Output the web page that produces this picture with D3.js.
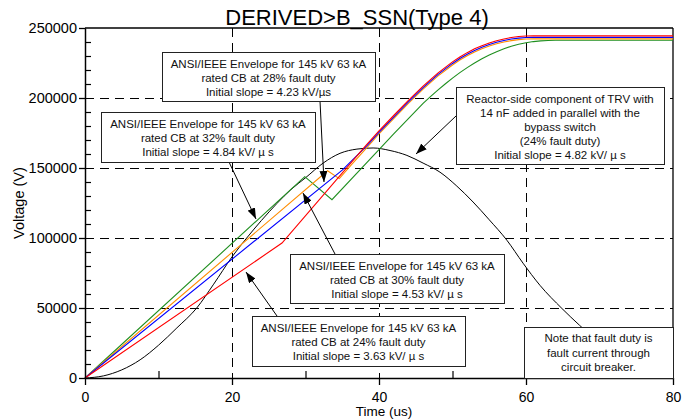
<!DOCTYPE html>
<html>
<head>
<meta charset="utf-8">
<script src="https://cdn.jsdelivr.net/npm/d3@7"></script>
<style>
  body { margin: 0; background: #fff; }
  svg { display: block; font-family: "Liberation Sans", Arial, sans-serif; }
</style>
</head>
<body>
<div id="chart"></div>
<script>
// tick values
var xTicks = [0, 20, 40, 60, 80];
var xMinor = [10, 30, 50, 70];
var yTicks = [0, 50000, 100000, 150000, 200000, 250000];
var yMinor = [10000, 20000, 30000, 40000, 60000, 70000, 80000, 90000,
              110000, 120000, 130000, 140000, 160000, 170000, 180000, 190000,
              210000, 220000, 230000, 240000];
var xGrid = [20, 40, 60];
var yGrid = [50000, 100000, 150000, 200000];

// [time us, volts]
var duty24 = [[0,0],[26.8,96400],[38.2,166000],[40,176500],[42,187500],[44,198300],[46,208500],
  [48,217800],[50,225800],[51,229300],[52,232400],[53,235100],[54,237400],[55,239300],[56,240900],
  [57,242200],[58,243200],[59,243900],[60,244300],[61,244400],[80,244400]];
var duty28 = [[0,0],[35,148500],[38.4,166100],[40,175400],[42,186400],[44,197200],[46,207400],
  [48,216700],[50,224700],[51,228200],[52,231300],[53,234000],[54,236300],[55,238200],[56,239800],
  [57,241100],[58,242100],[59,242800],[60,243200],[61,243300],[80,243300]];
var duty30 = [[0,0],[33,148000],[34.6,142400],[36.2,152000],[38.5,165500],[40,174300],[42,185300],
  [44,196100],[46,206300],[48,215600],[50,223600],[51,227100],[52,230200],[53,232900],[54,235200],
  [55,237100],[56,238700],[57,240000],[58,241000],[59,241700],[60,242100],[61,242200],[80,242200]];
var duty32 = [[0,0],[29.9,143800],[33.6,127400],[40,163200],[42,174300],[44,185300],[46,196200],
  [47,201000],[48,205600],[49,210000],[50,214200],[51,218100],[52,221700],[53,225000],[54,228000],
  [55,230700],[56,233100],[57,235200],[58,237000],[59,238400],[60,239500],[61,240300],[62,240800],
  [63,241100],[64,241200],[80,241200]];
var reactorSide = [[0,0],[2.5,1500],[5,5800],[7.5,13000],[10,23400],[12.5,35800],[15.2,50000],
  [17.5,67000],[20,86500],[22,100000],[24,112500],[26.1,124600],[28,134500],[30,143000],
  [32.4,153500],[34.7,160500],[37,163500],[39.2,164300],[41.5,162500],[43.8,159000],[46,153500],
  [48.3,147000],[50.5,137500],[52.8,125700],[55,113000],[57.4,98400],[59.6,82000],[61.9,66200],
  [64.9,49600],[67.3,37600],[70,25000],[72.5,15000],[75,7000],[77.5,2000],[80,0]];

// annotation texts
var text28 = ["ANSI/IEEE Envelope for 145 kV 63 kA", "rated CB at 28% fault duty", "Initial slope = 4.23 kV/\u00b5s"];
var text32 = ["ANSI/IEEE Envelope for 145 kV 63 kA", "rated CB at 32% fault duty", "Initial slope = 4.84 kV/ \u00b5 s"];
var textReactor = ["Reactor-side component of TRV with", "14 nF added in parallel with the", "bypass switch", "(24% fault duty)", "Initial slope = 4.82 kV/ \u00b5 s"];
var text30 = ["ANSI/IEEE Envelope for 145 kV 63 kA", "rated CB at 30% fault duty", "Initial slope = 4.53 kV/ \u00b5 s"];
var text24 = ["ANSI/IEEE Envelope for 145 kV 63 kA", "rated CB at 24% fault duty", "Initial slope = 3.63 kV/ \u00b5 s"];
var textNote = ["Note that fault duty is", "fault current through", "circuit breaker."];

// set the dimensions
var margin = {top: 28, right: 20, bottom: 41, left: 85},
    width = 693 - margin.left - margin.right,
    height = 419 - margin.top - margin.bottom;

var root = d3.select("#chart")
  .append("svg")
    .attr("width", 693)
    .attr("height", 419);

var defs = root.append("defs");
defs.append("marker")
    .attr("id", "head")
    .attr("markerUnits", "userSpaceOnUse")
    .attr("markerWidth", 11)
    .attr("markerHeight", 8)
    .attr("refX", 11)
    .attr("refY", 4)
    .attr("orient", "auto")
  .append("path")
    .attr("d", "M0,0 L11,4 L0,8 Z")
    .attr("fill", "#000");

var svg = root.append("g")
    .attr("transform", "translate(" + margin.left + "," + margin.top + ")");

var x = d3.scaleLinear().domain([0, 80]).range([0, width]);
var y = d3.scaleLinear().domain([0, 250000]).range([height, 0]);

// dashed grid
var grid = svg.append("g").attr("shape-rendering", "crispEdges");
grid.selectAll("line.h")
  .data(yGrid).enter().append("line")
    .attr("class", "h")
    .attr("x1", 0).attr("x2", width)
    .attr("y1", function(d) { return y(d) + 0.5; })
    .attr("y2", function(d) { return y(d) + 0.5; })
    .attr("stroke", "#000").attr("stroke-width", 1)
    .attr("stroke-dasharray", "9,6");
grid.selectAll("line.v")
  .data(xGrid).enter().append("line")
    .attr("class", "v")
    .attr("y1", 0).attr("y2", height)
    .attr("x1", function(d) { return x(d) + 0.5; })
    .attr("x2", function(d) { return x(d) + 0.5; })
    .attr("stroke", "#000").attr("stroke-width", 1)
    .attr("stroke-dasharray", "9,6");

// frame top + right
svg.append("line").attr("x1", 0).attr("x2", width).attr("y1", 0).attr("y2", 0)
    .attr("stroke", "#000").attr("stroke-width", 1.3);
svg.append("line").attr("x1", width).attr("x2", width).attr("y1", 0).attr("y2", height)
    .attr("stroke", "#000").attr("stroke-width", 1.3);

// curves
var line = d3.line()
    .x(function(d) { return x(d[0]); })
    .y(function(d) { return y(d[1]); });

svg.append("path").datum(reactorSide)
    .attr("fill", "none").attr("stroke", "#000").attr("stroke-width", 1)
    .attr("d", line.curve(d3.curveMonotoneX));

line.curve(d3.curveLinear);
var series = [
  {values: duty32, color: "#1f8f1f"},
  {values: duty30, color: "#ff8c00"},
  {values: duty28, color: "#0000ff"},
  {values: duty24, color: "#ff0000"}
];
svg.append("g").selectAll("path")
  .data(series).enter().append("path")
    .attr("fill", "none")
    .attr("stroke", function(d) { return d.color; })
    .attr("stroke-width", 1.1)
    .attr("d", function(d) { return line(d.values); });

// y axis
var yAxis = svg.append("g")
    .call(d3.axisLeft(y).tickValues(yTicks).tickSize(6).tickSizeOuter(0).tickPadding(2)
      .tickFormat(d3.format("d")));
yAxis.selectAll("text").attr("font-size", "14.5px").attr("fill", "#000")
    .style("font-family", "'Liberation Sans', Arial, sans-serif");
yAxis.selectAll("line, path").attr("stroke", "#000").attr("stroke-width", 1.3);
svg.append("g")
    .call(d3.axisRight(y).tickValues(yMinor).tickSize(6).tickSizeOuter(0).tickFormat(""))
  .selectAll("line, path").attr("stroke", "#000").attr("stroke-width", 1.2);

// x axis
var xAxis = svg.append("g")
    .attr("transform", "translate(0," + height + ")")
    .call(d3.axisBottom(x).tickValues(xTicks).tickSize(7).tickSizeOuter(0).tickPadding(7));
xAxis.selectAll("text").attr("font-size", "14px").attr("fill", "#000")
    .style("font-family", "'Liberation Sans', Arial, sans-serif");
xAxis.selectAll("line, path").attr("stroke", "#000").attr("stroke-width", 1.3);
svg.append("g")
    .attr("transform", "translate(0," + height + ")")
    .call(d3.axisTop(x).tickValues(xMinor).tickSize(7).tickSizeOuter(0).tickFormat(""))
  .selectAll("line, path").attr("stroke", "#000").attr("stroke-width", 1.2);

// titles
root.append("text")
    .attr("x", 357).attr("y", 25)
    .attr("text-anchor", "middle")
    .attr("font-size", "22px")
    .text("DERIVED>B_SSN(Type 4)");
root.append("text")
    .attr("transform", "translate(24,203) rotate(-90)")
    .attr("text-anchor", "middle")
    .attr("font-size", "14.5px")
    .text("Voltage (V)");
root.append("text")
    .attr("x", 384).attr("y", 416)
    .attr("text-anchor", "middle")
    .attr("font-size", "13.5px")
    .text("Time (us)");

// annotation boxes (page pixels) and arrows
var boxes = [
  {x: 162, y: 52, w: 213, h: 49, lines: text28, arrow: [320, 101, 324, 182]},
  {x: 101, y: 112, w: 214, h: 50, lines: text32, arrow: [229, 162, 256, 219]},
  {x: 456, y: 87, w: 208, h: 77, lines: textReactor, arrow: [456, 116, 416, 154]},
  {x: 290, y: 254, w: 214, h: 49, lines: text30, arrow: [335, 254, 303, 193]},
  {x: 252, y: 316, w: 213, h: 50, lines: text24, arrow: [277, 316, 246, 272]},
  {x: 524, y: 327, w: 149, h: 51, lines: textNote, step: 14.5, first: 11}
];

var ann = root.append("g");
boxes.forEach(function(b) {
  if (b.arrow) {
    ann.append("line")
        .attr("x1", b.arrow[0]).attr("y1", b.arrow[1])
        .attr("x2", b.arrow[2]).attr("y2", b.arrow[3])
        .attr("stroke", "#000").attr("stroke-width", 1)
        .attr("marker-end", "url(#head)");
  }
});
boxes.forEach(function(b) {
  ann.append("rect")
      .attr("x", b.x + 0.5).attr("y", b.y + 0.5)
      .attr("width", b.w).attr("height", b.h)
      .attr("fill", "#fff").attr("stroke", "#222").attr("stroke-width", 1);
  var step = b.step || 14, first = b.first || 12;
  b.lines.forEach(function(t, i) {
    ann.append("text")
        .attr("x", b.x + b.w / 2)
        .attr("y", b.y + first + i * step + 4)
        .attr("text-anchor", "middle")
        .attr("font-size", "11.5px")
        .attr("fill", "#111")
        .text(t);
  });
});
</script>
</body>
</html>
